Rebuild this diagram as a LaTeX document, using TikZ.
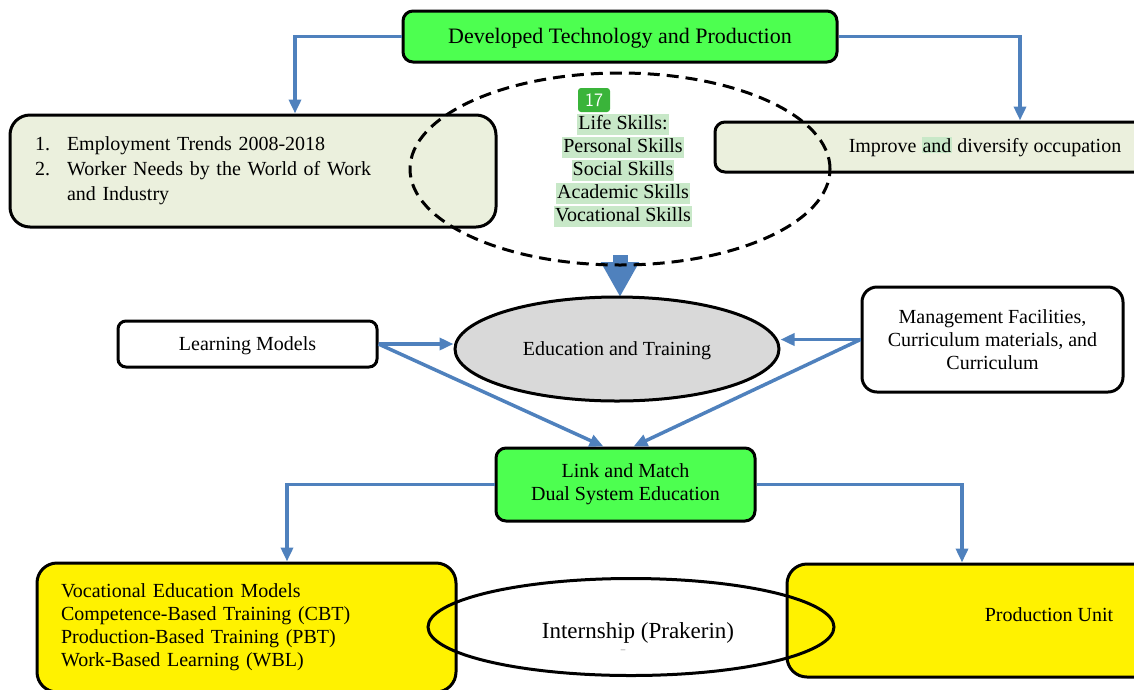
\documentclass[tikz,border=0pt]{standalone}
\usepackage{fontspec}
\setmainfont{Liberation Serif}
\usetikzlibrary{arrows.meta,shapes.geometric}

\definecolor{linkblue}{RGB}{79,129,189}
\definecolor{boxgreen}{RGB}{77,255,80}
\definecolor{palegreen}{RGB}{235,240,221}
\definecolor{hlgreen}{RGB}{200,232,200}
\definecolor{badgegreen}{RGB}{58,180,58}

\tikzset{
    box/.style={draw, line width=3pt, rounded corners=#1, inner sep=0pt},
    box/.default=10pt,
    conn/.style={draw=linkblue, line width=3.5pt, -{Triangle[length=14pt,width=12pt]}},
    hl/.style={fill=hlgreen, inner xsep=1pt, inner ysep=0pt, text height=16pt, text depth=5pt},
}

\begin{document}
\begin{tikzpicture}[x=1pt, y=-1pt, font=\fontsize{20}{23}\selectfont]
    \useasboundingbox (0, 0) rectangle (1134, 689);

    % top row
    \node[box, fill=boxgreen, minimum width=434pt, minimum height=51pt, text height=18pt,
        font=\fontsize{22}{26}\selectfont] (tech) at (620, 36.5) {Developed Technology and Production};
    \node[box=20pt, fill=palegreen, minimum width=486pt, minimum height=112pt,
        text width=436pt, align=left, font=\fontsize{20}{25}\selectfont] (trends) at (253, 171)
        {\makebox[32pt][l]{1.}Employment Trends 2008-2018\\
         \makebox[32pt][l]{2.}Worker Needs by the World of Work\\
         \hspace*{32pt}and Industry};
    \node[box, fill=palegreen, minimum width=540pt, minimum height=50pt] (occ) at (985, 147)
        {Improve {\setlength\fboxsep{1pt}\colorbox{hlgreen}{and}} diversify occupation};

    % life skills
    \draw[linkblue, line width=15pt, -{Triangle[length=35pt,width=36pt]}] (620, 255) -- (620, 297);
    \node[ellipse, draw, dashed, line width=3pt, dash pattern=on 12pt off 7pt,
        minimum width=420pt, minimum height=192pt, inner sep=0pt] (skills) at (620, 169) {};
    \foreach \txt [count=\i from 0] in {Life Skills:, Personal Skills, Social Skills, Academic Skills, Vocational Skills}
        \node[hl] (skill\i) at (623, 124 + 23*\i) {\txt};
    \node[fill=badgegreen, rounded corners=3pt, text=white, minimum width=32pt, minimum height=24pt,
        inner sep=0pt, font=\sffamily\fontsize{19}{19}\selectfont] (badge) at (594, 100) {17};

    % middle row
    \node[ellipse, draw, fill=black!15, line width=3pt, minimum width=324pt, minimum height=104pt,
        inner sep=0pt, text height=18pt] (edu) at (617, 349) {Education and Training};
    \node[box=8pt, fill=white, minimum width=259pt, minimum height=46pt, text height=18pt] (models) at (247.5, 344) {Learning Models};
    \node[box=15pt, fill=white, minimum width=261pt, minimum height=105pt, align=center] (mgmt) at (992.5, 339.5)
        {Management Facilities,\\Curriculum materials, and\\Curriculum};
    \node[box, fill=boxgreen, minimum width=259pt, minimum height=73pt, align=center] (link) at (625.5, 484.5)
        {Link and Match\\Dual System Education};

    % bottom row
    \node[box=20pt, fill=yellow, minimum width=419pt, minimum height=129pt,
        text width=371pt, align=left] (models2) at (246.5, 627.5)
        {Vocational Education Models\\
         Competence-Based Training (CBT)\\
         Production-Based Training (PBT)\\
         Work-Based Learning (WBL)};
    \node[box=20pt, fill=yellow, minimum width=524pt, minimum height=113pt, text depth=12pt] (unit) at (1049, 620.5) {Production Unit};
    \node[ellipse, draw, line width=3pt, minimum width=406pt, minimum height=97pt, inner sep=0pt] (intern) at (631, 627) {};
    \node[font=\fontsize{23}{26}\selectfont] (internlbl) at (638, 633) {Internship (Prakerin)};
    \node[font=\fontsize{9}{9}\selectfont, text=black!60] (dash) at (623, 651) {--};

    % connectors
    \draw[conn] (tech.west) -| ([xshift=42pt]trends.north);
    \draw[conn] (tech.east) -| ([xshift=35pt]occ.north);
    \draw[conn] (models.east) -- (models.east -| edu.west);
    \draw[conn] (models.east) -- ([xshift=-22pt]link.north);
    \draw[conn] (mgmt.west) -- (mgmt.west -| edu.east);
    \draw[conn] (mgmt.west) -- ([xshift=8pt]link.north);
    \draw[conn] (link.west) -| ([xshift=40.5pt]models2.north);
    \draw[conn] (link.east) -| ([xshift=-87pt]unit.north);
\end{tikzpicture}
\end{document}
